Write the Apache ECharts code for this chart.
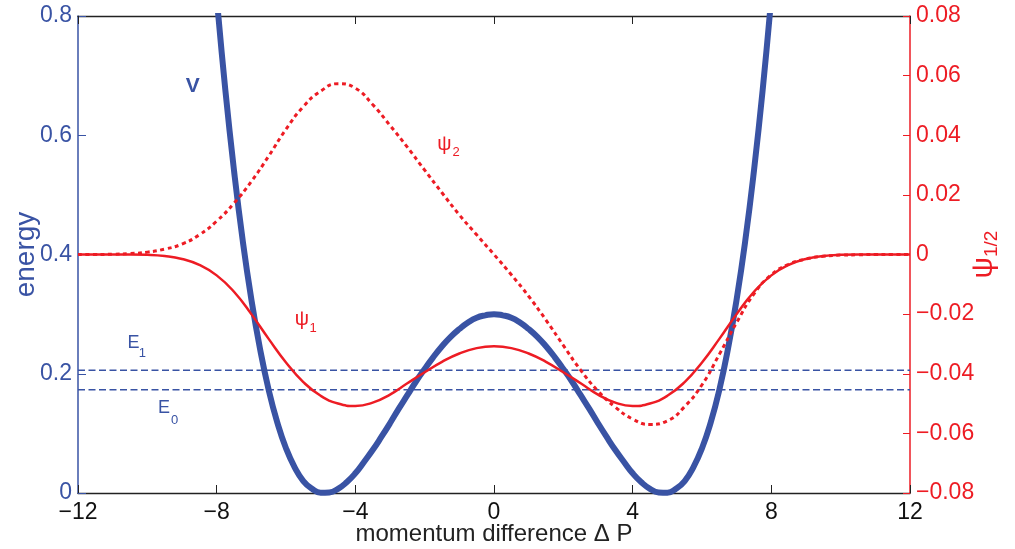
<!DOCTYPE html>
<html><head><meta charset="utf-8">
<script src="https://cdn.jsdelivr.net/npm/echarts@6/dist/echarts.min.js"></script>
<style>html,body{margin:0;padding:0;background:#fff}#c{width:1015px;height:549px}</style>
</head><body><div id="c"></div>
<script>
// ---- data ----
const vX = [-8,-7.75,-7.5,-7.25,-7,-6.75,-6.5,-6.25,-6,-5.75,-5.5,-5.25,-5,-4.75,-4.5,-4.25,-4,-3.75,-3.5,-3.25,-3,-2.75,-2.5,-2.25,-2,-1.75,-1.5,-1.25,-1,-0.75,-0.5,-0.25,0,
  0.25,0.5,0.75,1,1.25,1.5,1.75,2,2.25,2.5,2.75,3,3.25,3.5,3.75,4,4.25,4.5,4.75,5,5.25,5.5,5.75,6,6.25,6.5,6.75,7,7.25,7.5,7.75,8];
const vY = [0.832,0.676,0.541,0.424,0.325,0.242,0.173,0.118,0.075,0.043,0.020,0.007,0.0005,0.001,0.007,0.018,0.033,0.052,0.072,0.094,0.117,0.141,0.164,0.187,0.208,0.228,0.246,0.262,0.275,0.286,0.294,0.298,0.300,
  0.298,0.294,0.286,0.275,0.262,0.246,0.228,0.208,0.187,0.164,0.141,0.117,0.094,0.072,0.052,0.033,0.018,0.007,0.001,0.0005,0.007,0.020,0.043,0.075,0.118,0.173,0.242,0.325,0.424,0.541,0.676,0.832];
const psiX = [-12,-11.5,-11,-10.5,-10,-9.5,-9,-8.5,-8,-7.5,-7,-6.5,-6,-5.5,-5,-4.5,-4,-3.5,-3,-2.5,-2,-1.5,-1,-0.5,0,
  0.5,1,1.5,2,2.5,3,3.5,4,4.5,5,5.5,6,6.5,7,7.5,8,8.5,9,9.5,10,10.5,11,11.5,12];
const psi1 = [0,0,0,0,-0.0001,-0.0005,-0.0015,-0.0035,-0.0070,-0.0125,-0.0200,-0.0283,-0.0362,-0.0428,-0.0474,-0.0500,-0.0508,-0.0497,-0.0470,-0.0432,-0.0395,-0.0360,-0.0332,-0.0314,-0.0308,
  -0.0314,-0.0332,-0.0360,-0.0395,-0.0432,-0.0470,-0.0497,-0.0508,-0.0500,-0.0474,-0.0428,-0.0362,-0.0283,-0.0200,-0.0125,-0.0070,-0.0035,-0.0015,-0.0005,-0.0001,0,0,0,0];
const psi2 = [0,0,0.0001,0.0003,0.0008,0.0018,0.0035,0.0066,0.0112,0.0172,0.0245,0.0330,0.0420,0.0496,0.0548,0.0573,0.0558,0.0503,0.0433,0.0360,0.0283,0.0207,0.0133,0.0066,0,
  -0.0068,-0.0140,-0.0220,-0.0305,-0.0388,-0.0458,-0.0512,-0.0552,-0.0570,-0.0558,-0.0510,-0.0437,-0.0335,-0.0228,-0.0132,-0.0068,-0.0033,-0.0015,-0.0006,-0.0002,-0.0001,0,0,0];
const levelNames = ['E1','E0'];
const levelValues = [0.206, 0.173];
const xRange = [-12, 12];

// ---- styling ----
const BLUE = '#3953a4', RED = '#ed1c24', BLACK = '#222';
const FONT = "'Liberation Sans', Arial, Helvetica, sans-serif";
const fmt = v => { const r = Math.round(v * 1000) / 1000; return String(r).replace('-', '\u2212'); };

const chart = echarts.init(document.getElementById('c'), null, {renderer: 'canvas'});
const pairs = (xs, ys) => xs.map((x, i) => [x, ys[i]]);

const option = {
  animation: false,
  backgroundColor: '#fff',
  grid: {left: 78, right: 105, top: 16, bottom: 56, containLabel: false, outerBoundsMode: 'none'},
  xAxis: [
    {type: 'value', position: 'bottom', min: xRange[0], max: xRange[1], interval: 4,
     axisLine: {show: true, onZero: false, lineStyle: {color: BLACK, width: 1.3}},
     axisTick: {show: true, inside: true, length: 8, lineStyle: {color: BLACK}},
     axisLabel: {color: '#111', fontSize: 23, fontFamily: FONT, margin: 8, formatter: fmt},
     splitLine: {show: false},
     name: 'momentum difference \u0394 P', nameLocation: 'middle', nameGap: 29, nameMoveOverlap: false,
     nameTextStyle: {color: '#222', fontSize: 24, fontFamily: FONT}},
    {type: 'value', position: 'top', min: xRange[0], max: xRange[1], interval: 4,
     axisLine: {show: true, onZero: false, lineStyle: {color: BLACK, width: 1.3}},
     axisTick: {show: true, inside: true, length: 8, lineStyle: {color: BLACK}},
     axisLabel: {show: false}, splitLine: {show: false}}
  ],
  yAxis: [
    {type: 'value', position: 'left', min: 0, max: 0.8, interval: 0.2,
     axisLine: {show: true, onZero: false, lineStyle: {color: BLUE, width: 1.5}},
     axisTick: {show: true, inside: true, length: 8, lineStyle: {color: BLUE}},
     axisLabel: {color: BLUE, fontSize: 23, fontFamily: FONT, margin: 6, formatter: fmt},
     splitLine: {show: false},
     name: 'energy', nameLocation: 'middle', nameGap: 38, nameRotate: 90, nameMoveOverlap: false,
     nameTextStyle: {color: BLUE, fontSize: 28, fontFamily: FONT}},
    {type: 'value', position: 'right', min: -0.08, max: 0.08, interval: 0.02,
     axisLine: {show: true, onZero: false, lineStyle: {color: RED, width: 1.5}},
     axisTick: {show: true, inside: true, length: 7, lineStyle: {color: RED}},
     axisLabel: {color: RED, fontSize: 23, fontFamily: FONT, margin: 6, formatter: fmt},
     splitLine: {show: false},
     name: '{p|\u03c8}{s|1/2}', nameLocation: 'middle', nameGap: 57, nameRotate: 90, nameMoveOverlap: false,
     nameTextStyle: {color: RED, fontFamily: FONT,
       rich: {p: {fontSize: 30, color: RED, fontFamily: FONT, lineHeight: 34},
              s: {fontSize: 19, color: RED, fontFamily: FONT, lineHeight: 19, verticalAlign: 'bottom'}}}}
  ],
  series: [
    ...levelValues.map((v, i) => ({
      type: 'line', name: levelNames[i], xAxisIndex: 0, yAxisIndex: 0,
      data: [[xRange[0], v], [xRange[1], v]], showSymbol: false, silent: true,
      lineStyle: {color: BLUE, width: 1.5, type: [7, 3.5]}, z: 2})),
    {type: 'line', name: 'V', xAxisIndex: 0, yAxisIndex: 0, data: pairs(vX, vY),
     showSymbol: false, smooth: 0.5, lineStyle: {color: BLUE, width: 6}, z: 3},
    {type: 'line', name: 'psi2', xAxisIndex: 0, yAxisIndex: 1, data: pairs(psiX, psi2),
     showSymbol: false, smooth: 0.5, lineStyle: {color: RED, width: 3, type: [4, 3.5]}, z: 4},
    {type: 'line', name: 'psi1', xAxisIndex: 0, yAxisIndex: 1, data: pairs(psiX, psi1),
     showSymbol: false, smooth: 0.5, lineStyle: {color: RED, width: 2.5}, z: 5}
  ]
};
chart.setOption(option);

// annotations anchored in data coordinates (left axis)
const notes = [
  {t: 'V', x: -8.69, y: 0.683, size: 21, bold: true, color: BLUE},
  {t: 'E', x: -10.40, y: 0.2507, size: 18, color: BLUE},
  {t: '1', x: -10.14, y: 0.2348, size: 13, color: BLUE},
  {t: 'E', x: -9.52, y: 0.1417, size: 18, color: BLUE},
  {t: '0', x: -9.216, y: 0.1224, size: 13, color: BLUE},
  {t: '\u03c8', x: -5.54, y: 0.291, size: 20, color: RED},
  {t: '1', x: -5.22, y: 0.2767, size: 13, color: RED},
  {t: '\u03c8', x: -1.43, y: 0.5845, size: 20, color: RED},
  {t: '2', x: -1.096, y: 0.5711, size: 13, color: RED}
];
chart.setOption({graphic: notes.map(n => {
  const p = chart.convertToPixel({xAxisIndex: 0, yAxisIndex: 0}, [n.x, n.y]);
  return {type: 'text', x: p[0], y: p[1], z: 10,
    style: {text: n.t, fill: n.color, font: (n.bold ? 'bold ' : '') + n.size + 'px ' + FONT,
            align: 'center', verticalAlign: 'middle'}};
})});
</script>
</body></html>
